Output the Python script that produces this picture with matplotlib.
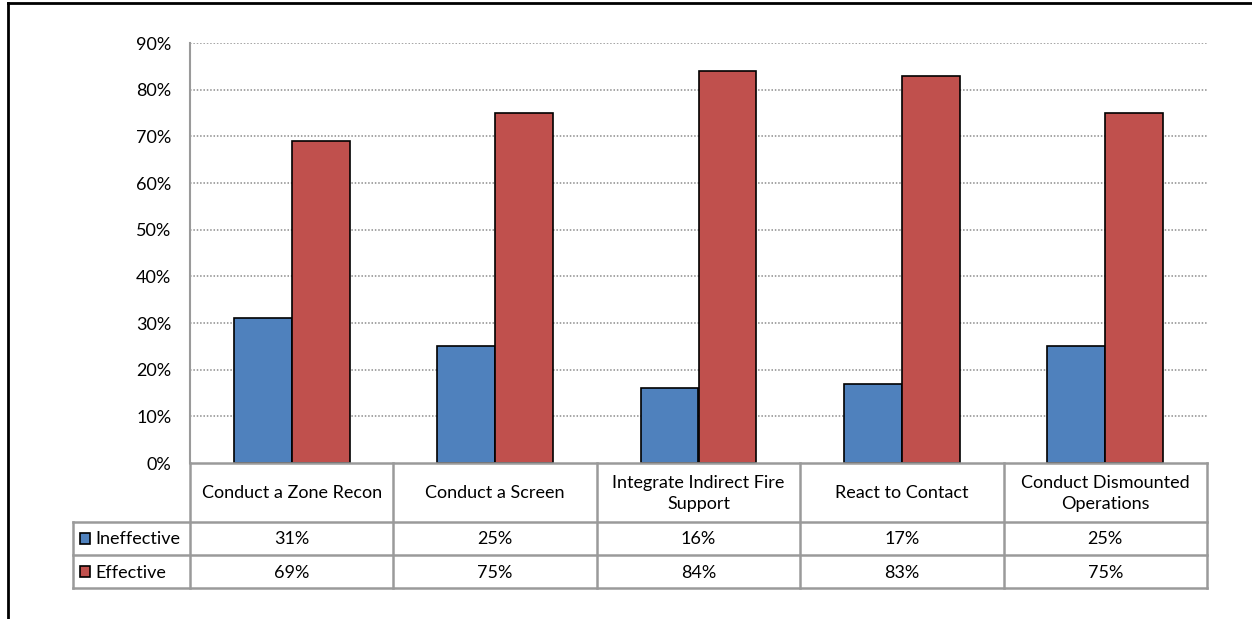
import matplotlib
matplotlib.use("Agg")
import matplotlib.pyplot as plt
from matplotlib.patches import Rectangle

plt.rcParams['font.family'] = ['Lato', 'DejaVu Sans']

categories = ["Conduct a Zone Recon", "Conduct a Screen",
              "Integrate Indirect Fire\nSupport", "React to Contact",
              "Conduct Dismounted\nOperations"]
series_names = ["Ineffective", "Effective"]
ineffective = [0.31, 0.25, 0.16, 0.17, 0.25]
effective = [0.69, 0.75, 0.84, 0.83, 0.75]
yticks = [0.0, 0.1, 0.2, 0.3, 0.4, 0.5, 0.6, 0.7, 0.8, 0.9]

colors = ["#4F81BD", "#C0504D"]
W, H = 1252, 619
fig = plt.figure(figsize=(W / 100, H / 100), dpi=100)

def fbox(x0, y0, x1, y1):
    return [x0 / W, 1 - y1 / H, (x1 - x0) / W, (y1 - y0) / H]

fs = 13

# plot area
L, R, T, B = 190, 1207, 43, 463
ax = fig.add_axes(fbox(L, T, R, B))
n = len(categories)
bw = 0.285
xs = range(n)
ax.bar([x - bw / 2 for x in xs], ineffective, width=bw, color=colors[0],
       edgecolor="black", linewidth=1.2, zorder=3)
ax.bar([x + bw / 2 for x in xs], effective, width=bw, color=colors[1],
       edgecolor="black", linewidth=1.2, zorder=3)
ax.set_xlim(-0.5, n - 0.5)
ax.set_ylim(0, 0.9)
ax.set_yticks(yticks)
ax.set_yticklabels([f"{int(round(v * 100))}%" for v in yticks], fontsize=fs)
ax.tick_params(axis="y", length=0, pad=13.5)
ax.set_xticks([])
for v in yticks[1:]:
    ax.axhline(v, color="#8c8c8c", linestyle=(0, (1.0, 1.2)), linewidth=1.1, zorder=1)
for s in ["top", "right", "bottom"]:
    ax.spines[s].set_visible(False)
ax.spines["left"].set_color("#9a9a9a")
ax.spines["left"].set_linewidth(1.5)
ax.set_facecolor("none")

# overlay for data table and frame
ov = fig.add_axes([0, 0, 1, 1])
ov.set_xlim(0, W)
ov.set_ylim(H, 0)
ov.axis("off")

grid_c = "#9a9a9a"
lw = 1.8
col_x = [L + (R - L) * i / n for i in range(n + 1)]
row_y = [463, 522, 555, 588]
leg_l = 73

ov.plot([L, R], [row_y[0], row_y[0]], color=grid_c, lw=lw)
for y in row_y[1:]:
    ov.plot([leg_l, R], [y, y], color=grid_c, lw=lw)
for x in col_x:
    ov.plot([x, x], [row_y[0], row_y[-1]], color=grid_c, lw=lw)
ov.plot([leg_l, leg_l], [row_y[1], row_y[-1]], color=grid_c, lw=lw)

for i, cat in enumerate(categories):
    cx = (col_x[i] + col_x[i + 1]) / 2
    ov.text(cx, (row_y[0] + row_y[1]) / 2 + 1, cat, ha="center", va="center",
            fontsize=fs, linespacing=1.45)
    ov.text(cx, (row_y[1] + row_y[2]) / 2 + 1, f"{int(round(ineffective[i] * 100))}%",
            ha="center", va="center", fontsize=fs)
    ov.text(cx, (row_y[2] + row_y[3]) / 2 + 1, f"{int(round(effective[i] * 100))}%",
            ha="center", va="center", fontsize=fs)

for j, name in enumerate(series_names):
    cy = (row_y[j + 1] + row_y[j + 2]) / 2
    ov.add_patch(Rectangle((80, cy - 5.5), 10, 11, facecolor=colors[j],
                           edgecolor="black", linewidth=1.2))
    ov.text(95, cy + 1, name, ha="left", va="center", fontsize=fs)

# outer chart frame
ov.plot([8, 8], [3, H + 5], color="black", lw=2)
ov.plot([8, W + 5], [3, 3], color="black", lw=2)

fig.savefig("out.png", dpi=100)
